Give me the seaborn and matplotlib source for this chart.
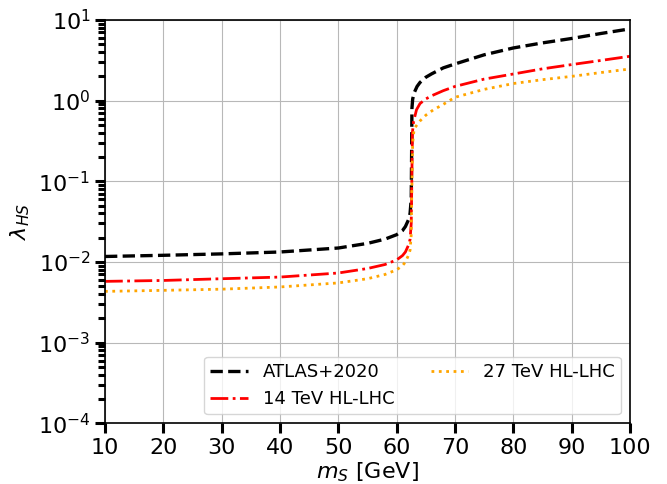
import numpy as np
import pandas as pd
import matplotlib
matplotlib.use("Agg")
import matplotlib.pyplot as plt
import seaborn as sns

# Upper limits on the Higgs-portal coupling versus scalar mass
m_atlas = [10, 20, 30, 40, 50, 55, 58, 60, 61, 61.5, 62.0, 62.3, 62.5, 62.58, 62.62,
           62.75, 63.0, 63.5, 64, 65, 66, 68, 70, 75, 80, 85, 90, 95, 100]
lam_atlas = [0.0117, 0.0121, 0.0126, 0.0133, 0.0149, 0.0170, 0.0192, 0.0218, 0.0245,
             0.0275, 0.033, 0.040, 0.06, 0.3, 0.8,
             1.05, 1.25, 1.5, 1.68, 1.95, 2.15, 2.55, 2.85, 3.7, 4.5, 5.2, 5.9, 6.8, 7.76]

m_hl14 = [10, 20, 30, 40, 50, 55, 58, 60, 61, 61.5, 62.0, 62.3, 62.5, 62.6, 62.7,
          62.9, 63.4, 64, 65, 66, 68, 70, 75, 80, 85, 90, 95, 100]
lam_hl14 = [0.00575, 0.0059, 0.0062, 0.0065, 0.0073, 0.0083, 0.0093, 0.0106, 0.0120,
            0.0133, 0.016, 0.019, 0.03, 0.1, 0.4,
            0.55, 0.77, 0.92, 1.05, 1.15, 1.33, 1.5, 1.85, 2.14, 2.48, 2.8, 3.15, 3.55]

m_hl27 = [10, 20, 30, 40, 50, 55, 58, 60, 61, 61.5, 62.0, 62.3, 62.5, 62.6, 62.75,
          63.0, 64, 65, 66.3, 68, 70, 75, 80, 85, 90, 95, 100]
lam_hl27 = [0.00432, 0.00445, 0.0046, 0.0049, 0.0055, 0.0062, 0.0070, 0.0080, 0.0090,
            0.0100, 0.012, 0.014, 0.022, 0.08, 0.3,
            0.45, 0.56, 0.66, 0.77, 0.9, 1.1, 1.38, 1.63, 1.82, 2.0, 2.23, 2.47]

labels = ["ATLAS+2020", "14 TeV HL-LHC", "27 TeV HL-LHC"]
colors = ["black", "red", "orange"]
styles = ["--", "-.", ":"]
widths = [2.4, 2.0, 2.0]

sns.set_style("white")
plt.rcParams["font.family"] = ["DejaVu Sans"]
plt.rcParams["mathtext.fontset"] = "dejavusans"
plt.rcParams["text.color"] = "black"
plt.rcParams["axes.labelcolor"] = "black"
plt.rcParams["xtick.color"] = "black"
plt.rcParams["ytick.color"] = "black"

fig = plt.figure(figsize=(6.67, 4.84), dpi=100)
ax = fig.add_axes([0.1574, 0.1254, 0.7871, 0.8333])

series = [(m_atlas, lam_atlas), (m_hl14, lam_hl14), (m_hl27, lam_hl27)]
for (mx, ly), lab, col, ls, lw in zip(series, labels, colors, styles, widths):
    df = pd.DataFrame({"m": mx, "lam": ly})
    sns.lineplot(data=df, x="m", y="lam", ax=ax, color=col, linestyle=ls,
                 linewidth=lw, label=lab, sort=False, estimator=None)

ax.set_yscale("log")
ax.set_xlim(10, 100)
ax.set_ylim(1e-4, 10)
ax.set_xticks(np.arange(10, 101, 10))
ax.grid(True, which="major", color="#b8b8b8", linewidth=0.8)
ax.set_axisbelow(True)

for s in ax.spines.values():
    s.set_color("black")
    s.set_linewidth(1.2)

ax.tick_params(axis="both", which="major", direction="out", length=7, width=2.2,
               labelsize=16, colors="black", left=True, bottom=True)
ax.tick_params(axis="y", which="minor", direction="out", length=5, width=2.2,
               colors="black", left=True)

ax.set_xlabel(r"$m_S$ [GeV]", fontsize=16, labelpad=2, color="black")
ax.set_ylabel(r"$\lambda_{HS}$", fontsize=16, labelpad=4, color="black")

leg = ax.legend(loc="lower right", ncol=2, fontsize=13, frameon=True,
                handlelength=2.1, columnspacing=2.0, borderpad=0.35,
                labelspacing=0.5)
for t in leg.get_texts():
    t.set_color("black")

fig.savefig("out.png", dpi=100)
